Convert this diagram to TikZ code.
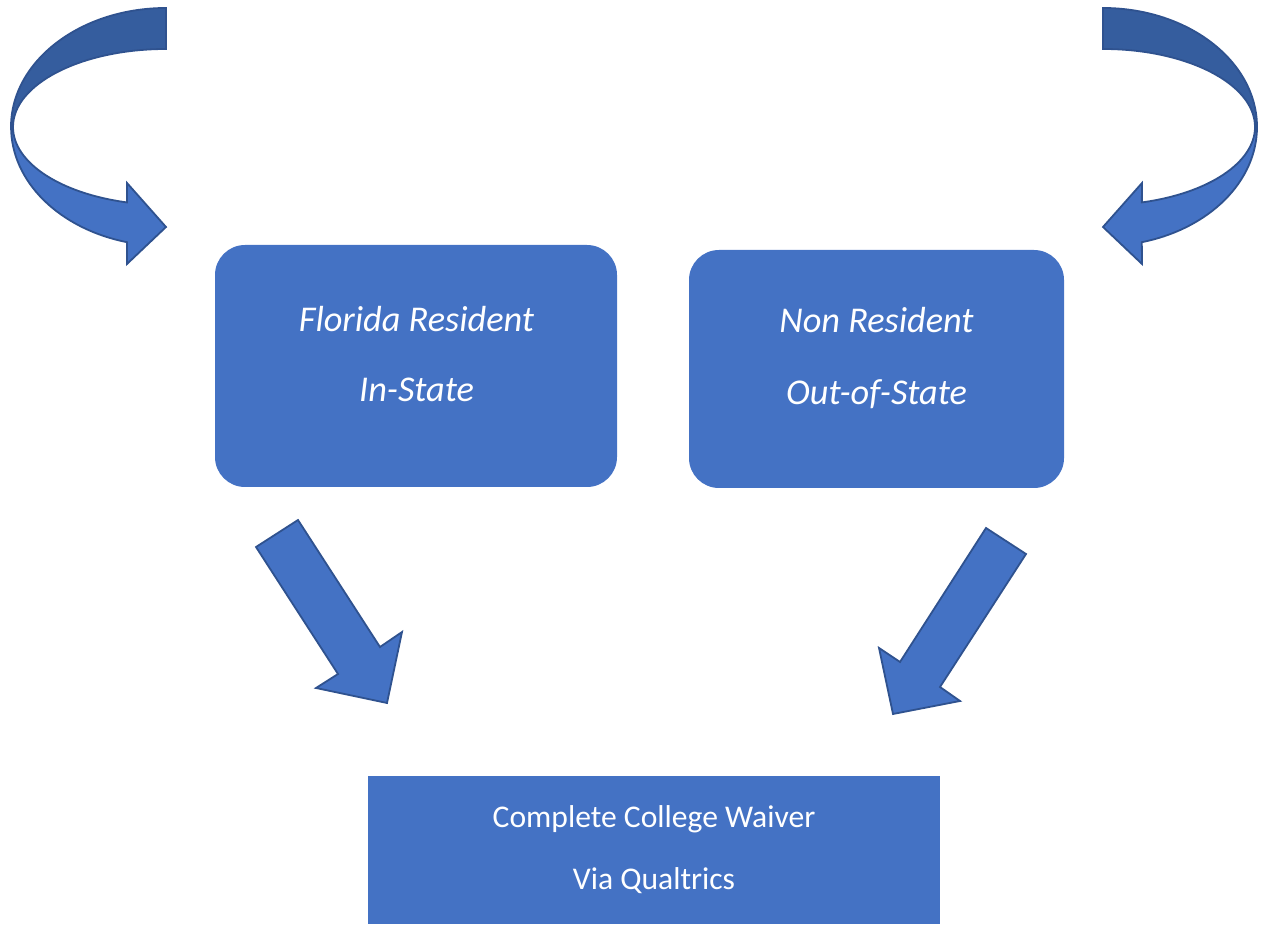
\documentclass[tikz,border=0pt]{standalone}
\usepackage{fontspec}
\setmainfont{Carlito}
\definecolor{fillblue}{HTML}{4472C4}
\definecolor{edgeblue}{HTML}{2F528F}
\definecolor{backblue}{HTML}{355D9E}
\begin{document}
\begin{tikzpicture}[x=1pt,y=1pt,
  blockarrow/.style={fill=fillblue,draw=edgeblue,line width=1.8pt,line join=miter},
  backband/.style={fill=backblue,draw=edgeblue,line width=1.8pt},
  roundbox/.style={fill=fillblue,rounded corners=30pt,inner sep=0pt},
  flatbox/.style={fill=fillblue,inner sep=0pt},
  boxtext/.style={text=white,font=\fontsize{36.3}{40}\selectfont\itshape,anchor=base,inner sep=0pt},
  waivertext/.style={text=white,font=\fontsize{31.6}{36}\selectfont,anchor=base,inner sep=0pt}]
\useasboundingbox (0,0) rectangle (1263,924);

% boxes
\node[roundbox,minimum width=402pt,minimum height=242pt] (fl) at (416,558) {};
\node[roundbox,minimum width=375pt,minimum height=238pt] (nr) at (876.5,555) {};
\node[flatbox,minimum width=572pt,minimum height=148pt] (cw) at (654,74) {};

\node[boxtext] (fl1) at (416.5,592) {Florida Resident};
\node[boxtext] (fl2) at (416.5,522) {In-State};
\node[boxtext] (nr1) at (876.5,591) {Non Resident};
\node[boxtext] (nr2) at (876.5,519) {Out-of-State};
\node[waivertext] (cw1) at (654,97) {Complete College Waiver};
\node[waivertext] (cw2) at (654,35) {Via Qualtrics};

% left curved arrow
\draw[backband] (166,916) arc[start angle=90,end angle=180,x radius=155pt,y radius=119pt]
  -- (13,797) arc[start angle=180,end angle=90,x radius=153pt,y radius=78pt] -- cycle;
\draw[blockarrow] (13,797) arc[start angle=180,end angle=255.2,x radius=153pt,y radius=78pt]
  -- (127,741) -- (166,697) -- (127,660) -- (127,681.8)
  arc[start angle=255.4,end angle=180,x radius=155pt,y radius=119pt] -- cycle;

% right curved arrow
\draw[backband] (1103,916) arc[start angle=90,end angle=0,x radius=154pt,y radius=119pt]
  -- (1255,797) arc[start angle=0,end angle=90,x radius=152pt,y radius=78pt] -- cycle;
\draw[blockarrow] (1255,797) arc[start angle=0,end angle=-75.2,x radius=152pt,y radius=78pt]
  -- (1142,741) -- (1103,697) -- (1142,660) -- (1141.8,681.8)
  arc[start angle=-75.4,end angle=0,x radius=154pt,y radius=119pt] -- cycle;

% straight arrows
\draw[blockarrow] (256,377) -- (298,404) -- (380,277) -- (402,292) -- (387,221)
  -- (316,236) -- (338,250) -- cycle;
\draw[blockarrow] (986,396) -- (1026,370) -- (940,237) -- (960,223) -- (893,210)
  -- (879,276) -- (900,262) -- cycle;
\end{tikzpicture}
\end{document}
